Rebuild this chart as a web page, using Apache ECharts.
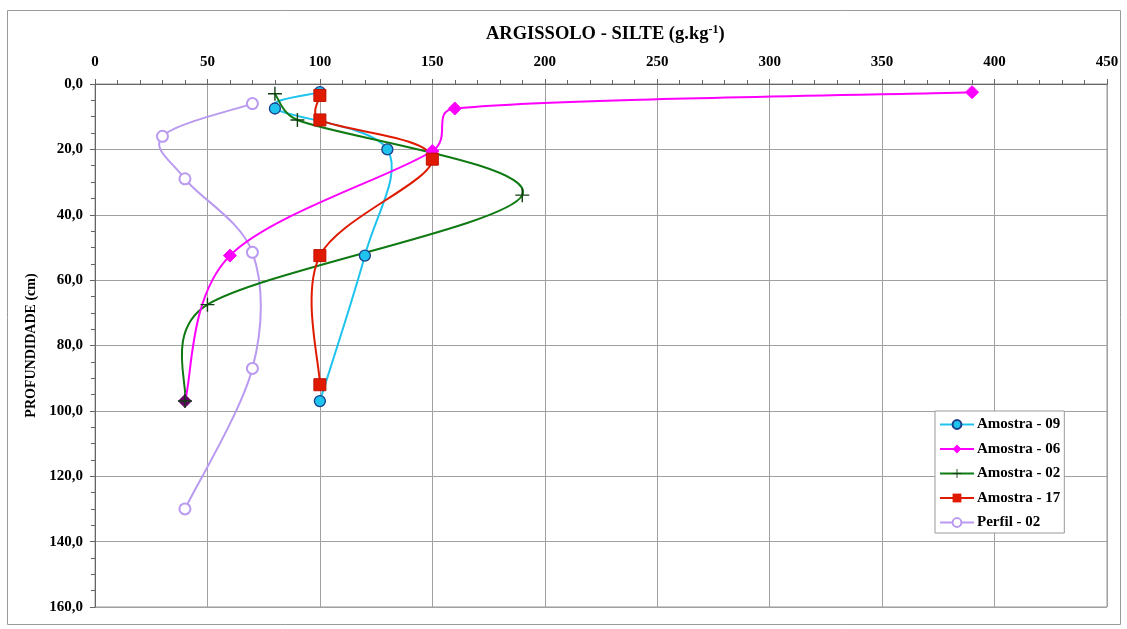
<!DOCTYPE html>
<html>
<head>
<meta charset="utf-8">
<script src="https://cdn.jsdelivr.net/npm/echarts@6/dist/echarts.min.js"></script>
<style>
  html, body { margin: 0; padding: 0; background: #fff; }
  #chart { width: 1127px; height: 629px; }
</style>
</head>
<body>
<div id="chart"></div>
<script>
// Silt content (g.kg-1) against depth (cm) for each profile sample
const seriesNames = ['Amostra - 09', 'Amostra - 06', 'Amostra - 02', 'Amostra - 17', 'Perfil - 02'];

const silte09 = [100, 80, 130, 120, 100];
const prof09  = [2.5, 7.5, 20, 52.5, 97];

const silte06 = [390, 160, 150, 60, 40];
const prof06  = [2.5, 7.5, 20.5, 52.5, 97];

const silte02 = [80, 90, 190, 50, 40];
const prof02  = [3, 11, 34, 67.5, 97];

const silte17 = [100, 100, 150, 100, 100];
const prof17  = [3.5, 11, 23, 52.5, 92];

const silteP02 = [70, 30, 40, 70, 70, 40];
const profP02  = [6, 16, 29, 51.5, 87, 130];

const xTicks = { min: 0, max: 450, interval: 50 };
const yTicks = { min: 0, max: 160, interval: 20 };

const lineColors = ['#1ec3ee', '#ff00ff', '#0f7a12', '#e01a00', '#b99af0'];

function pairs(xs, ys) { return xs.map((x, i) => [x, ys[i]]); }

const serif = '"Liberation Serif", "DejaVu Serif", serif';
const plusPath = 'path://M-0.6,-6H0.6V-0.6H6V0.6H0.6V6H-0.6V0.6H-6V-0.6H-0.6Z';

const datasets = [
  pairs(silte09, prof09),
  pairs(silte06, prof06),
  pairs(silte02, prof02),
  pairs(silte17, prof17),
  pairs(silteP02, profP02)
];

// Spreadsheet-style smoothed curve: cubic Bezier segments whose control
// points follow the neighbour chord (1/6), capped at half the segment length.
function smoothCurve(points, color) {
  return function (params, api) {
    if (params.dataIndex !== 0) return null;
    const P = points.map(p => api.coord(p));
    const n = P.length;
    const dist = (a, b) => Math.hypot(a[0] - b[0], a[1] - b[1]);
    const children = [];
    for (let i = 0; i < n - 1; i++) {
      const p1 = P[i], p2 = P[i + 1];
      const p0 = i > 0 ? P[i - 1] : p1;
      const p3 = i + 2 < n ? P[i + 2] : p2;
      const d12 = dist(p1, p2);
      const d02 = dist(p0, p2);
      const d13 = dist(p1, p3);
      const f0 = (d02 / 6 < d12 / 2) ? 1 / 6 : d12 / (2 * d02);
      const f1 = (d13 / 6 < d12 / 2) ? 1 / 6 : d12 / (2 * d13);
      children.push({
        type: 'bezierCurve',
        shape: {
          x1: p1[0], y1: p1[1],
          cpx1: p1[0] + f0 * (p2[0] - p0[0]), cpy1: p1[1] + f0 * (p2[1] - p0[1]),
          cpx2: p2[0] - f1 * (p3[0] - p1[0]), cpy2: p2[1] - f1 * (p3[1] - p1[1]),
          x2: p2[0], y2: p2[1]
        },
        style: { stroke: color, lineWidth: 2, fill: null }
      });
    }
    return { type: 'group', children };
  };
}

const chart = echarts.init(document.getElementById('chart'));

const d06 = datasets[1].map((p, i, arr) =>
  i === arr.length - 1 ? { value: p, itemStyle: { color: '#660066', borderColor: '#660066' } } : p);

const markerSeries = [
  {
    name: seriesNames[0], type: 'line', data: datasets[0],
    symbol: 'circle', symbolSize: 11,
    itemStyle: { color: '#1ec3ee', borderColor: '#1a3e8a', borderWidth: 1.3 }, z: 5
  },
  {
    name: seriesNames[1], type: 'line', data: d06,
    symbol: 'diamond', symbolSize: 13,
    itemStyle: { color: '#ff00ff', borderColor: '#ff00ff' }, z: 6
  },
  {
    name: seriesNames[2], type: 'line', data: datasets[2],
    symbol: plusPath, symbolSize: 14,
    itemStyle: { color: '#123f12', borderColor: '#123f12', borderWidth: 0 }, z: 7
  },
  {
    name: seriesNames[3], type: 'line', data: datasets[3],
    symbol: 'rect', symbolSize: 12,
    itemStyle: { color: '#e01a00', borderColor: '#c01000' }, z: 8
  },
  {
    name: seriesNames[4], type: 'line', data: datasets[4],
    symbol: 'emptyCircle', symbolSize: 11,
    itemStyle: { color: '#b99af0', borderColor: '#b99af0', borderWidth: 1.3 }, z: 4
  }
].map((s, i) => Object.assign(s, {
  lineStyle: { color: lineColors[i], width: 2, opacity: 0 },
  showSymbol: true
}));

const curveSeries = datasets.map((pts, i) => ({
  name: 'curve-' + i,
  type: 'custom',
  silent: true,
  z: [2, 2.5, 2.4, 2.6, 1.5][i],
  data: pts,
  encode: { x: 0, y: 1 },
  renderItem: smoothCurve(pts, lineColors[i])
}));

chart.setOption({
  animation: false,
  backgroundColor: '#fff',
  textStyle: { fontFamily: serif },
  title: {
    left: 481, top: 19,
    text: '{a|ARGISSOLO - SILTE (g.kg}{s|-1}{a|)}',
    textStyle: {
      rich: {
        a: { fontFamily: serif, fontWeight: 'bold', fontSize: 18.5, color: '#000' },
        s: { fontFamily: serif, fontWeight: 'bold', fontSize: 12, color: '#000', verticalAlign: 'top', padding: [0, 0, 9, 0] }
      }
    }
  },
  graphic: [{
    type: 'rect', silent: true, z: -1,
    shape: { x: 7.5, y: 10.5, width: 1113, height: 614 },
    style: { fill: 'none', stroke: '#9a9a9a', lineWidth: 1 }
  }],
  grid: { left: 95, right: 20, top: 84, bottom: 22, show: true, borderColor: '#999', borderWidth: 1 },
  legend: {
    orient: 'vertical',
    left: 935, top: 411,
    padding: [6, 4, 3, 4],
    itemGap: 9.5,
    itemWidth: 34, itemHeight: 11,
    borderColor: '#999', borderWidth: 1,
    backgroundColor: '#fff',
    textStyle: { fontFamily: serif, fontWeight: 'bold', fontSize: 15, color: '#000', padding: [0, 0, 0, -2] },
    data: seriesNames.map((name, i) => ({
      name,
      lineStyle: { color: lineColors[i], width: 2, opacity: 1 }
    }))
  },
  xAxis: {
    type: 'value', position: 'top',
    min: xTicks.min, max: xTicks.max, interval: xTicks.interval,
    axisLine: { show: true, lineStyle: { color: '#666' } },
    axisTick: { show: true, length: 5, lineStyle: { color: '#666' } },
    minorTick: { show: true, splitNumber: 5, length: 4, lineStyle: { color: '#666' } },
    splitLine: { show: true, lineStyle: { color: '#a0a0a0' } },
    axisLabel: { fontFamily: serif, fontWeight: 'bold', fontSize: 15, color: '#000', margin: 14 }
  },
  yAxis: {
    type: 'value', inverse: true,
    min: yTicks.min, max: yTicks.max, interval: yTicks.interval,
    name: 'PROFUNDIDADE (cm)', nameLocation: 'middle', nameGap: 56,
    nameTextStyle: { fontFamily: serif, fontWeight: 'bold', fontSize: 14, color: '#000' },
    axisLine: { show: true, lineStyle: { color: '#666' } },
    axisTick: { show: true, length: 5, lineStyle: { color: '#666' } },
    minorTick: { show: true, splitNumber: 4, length: 4, lineStyle: { color: '#666' } },
    splitLine: { show: true, lineStyle: { color: '#a0a0a0' } },
    axisLabel: {
      fontFamily: serif, fontWeight: 'bold', fontSize: 15, color: '#000', margin: 12,
      formatter: v => v.toFixed(1).replace('.', ',')
    }
  },
  series: curveSeries.concat(markerSeries)
});
</script>
</body>
</html>
